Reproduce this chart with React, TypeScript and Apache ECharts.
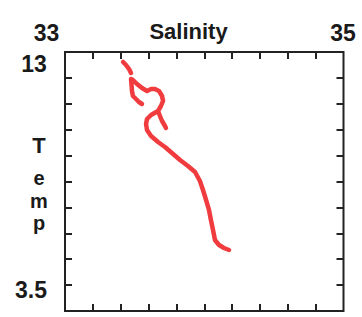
import React, { useEffect, useRef } from "react";
import * as echarts from "echarts";

// Salinity / temperature profile (null = gap in the plotted trace)
const salinity: (number | null)[] = [
  33.417, 33.438, 33.46, 33.474, null,
  33.474, 33.478, 33.481, 33.488, 33.51, 33.531, 33.553, null,
  33.488, 33.517, 33.553, 33.589, 33.618, 33.646, 33.675, 33.697, 33.704, 33.689, 33.668, 33.682, 33.697, 33.718, 33.725, null,
  33.668, 33.618, 33.589, 33.582, 33.589, 33.618, 33.668, 33.718, 33.768, 33.826, 33.883, 33.934, 33.969, 33.991, 34.013, 34.034, 34.048, 34.063, 34.077, 34.106, 34.142, 34.178,
];
const temperature: (number | null)[] = [
  12.633, 12.523, 12.376, 12.23, null,
  12.01, 11.79, 11.569, 11.386, 11.276, 11.166, 11.093, null,
  11.973, 11.826, 11.68, 11.569, 11.643, 11.643, 11.569, 11.386, 11.203, 11.019, 10.836, 10.652, 10.469, 10.286, 10.212, null,
  10.836, 10.689, 10.542, 10.359, 10.139, 9.919, 9.699, 9.515, 9.295, 9.039, 8.818, 8.598, 8.268, 7.938, 7.571, 7.205, 6.838, 6.471, 6.104, 5.921, 5.811, 5.737,
];

const xRange = [33, 35];
const yRange = [3.5, 13];
const xTickValues = [33.2, 33.4, 33.6, 33.8, 34.0, 34.2, 34.4, 34.6, 34.8];
const yTickValues = [12.05, 11.1, 10.15, 9.2, 8.25, 7.3, 6.35, 5.4, 4.45];
const xEndLabels = ["33", "35"];
const yEndLabels = ["13", "3.5"];
const xTitle = "Salinity";
const yTitleLetters = ["T", "e", "m", "p"];

export default function App() {
  const ref = useRef<HTMLDivElement>(null);
  useEffect(() => {
    document.body.style.margin = "0";
    if (!ref.current) return;
    const chart = echarts.init(ref.current, null, { renderer: "svg" });
    const data = salinity.map((s, i) =>
      s === null || temperature[i] === null ? [null, null] : [s, temperature[i]]
    );
    const font = "Liberation Sans, Arial, sans-serif";
    const txt = (text: string, x: number, y: number, size = 23) => ({
      type: "text",
      x,
      y,
      style: {
        text,
        fontFamily: font,
        fontWeight: "bold",
        fontSize: size,
        fill: "#1a1a1a",
        align: "center",
        verticalAlign: "middle",
      },
    });
    const letterY = [145, 178, 200.5, 223];
    const letterSize = [22, 20, 20, 20];
    const tickCommon = {
      show: true,
      inside: true,
      length: 7,
      lineStyle: { color: "#222", width: 2 },
    };
    const xAxisBase = (position: string) => ({
      type: "value",
      min: xRange[0],
      max: xRange[1],
      position,
      axisLine: { show: false },
      axisTick: { ...tickCommon, customValues: xTickValues },
      axisLabel: { show: false },
      splitLine: { show: false },
    });
    const yAxisBase = (position: string) => ({
      type: "value",
      min: yRange[0],
      max: yRange[1],
      position,
      axisLine: { show: false },
      axisTick: { ...tickCommon, customValues: yTickValues },
      axisLabel: { show: false },
      splitLine: { show: false },
    });
    chart.setOption({
      animation: false,
      grid: {
        left: 65,
        top: 52,
        width: 278.5,
        height: 259,
        show: true,
        borderColor: "#222",
        borderWidth: 2,
        backgroundColor: "#fff",
      },
      xAxis: [xAxisBase("top"), xAxisBase("bottom")],
      yAxis: [yAxisBase("left"), yAxisBase("right")],
      series: [
        {
          type: "line",
          data,
          xAxisIndex: 0,
          yAxisIndex: 0,
          showSymbol: false,
          connectNulls: false,
          lineStyle: { color: "#f03c3e", width: 4.5, join: "round", cap: "round" },
        },
      ],
      graphic: [
        txt(xEndLabels[0], 46.5, 32.5),
        txt(xTitle, 188.5, 31, 22),
        txt(xEndLabels[1], 343, 33),
        txt(yEndLabels[0], 34, 63.5),
        txt(yEndLabels[1], 31, 290),
        ...yTitleLetters.map((l, i) => txt(l, 39, letterY[i], letterSize[i])),
      ],
    });
    return () => chart.dispose();
  }, []);
  return <div ref={ref} style={{ width: 362, height: 317 }} />;
}
